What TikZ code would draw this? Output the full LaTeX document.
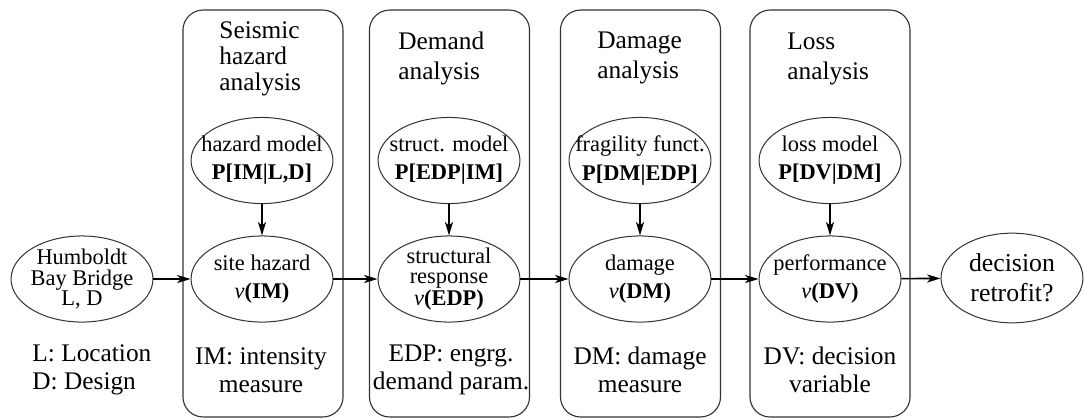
\documentclass[tikz,border=0pt]{standalone}
\usepackage{fontspec}
\setmainfont{Liberation Serif}
\usetikzlibrary{arrows.meta,positioning,shapes.geometric}

\begin{document}
\begin{tikzpicture}[
    x=0.446pt, y=-0.446pt,
    node distance=14pt,
    stage/.style={draw=black!80, line width=0.5pt, rounded corners=9pt, minimum width=71.4pt, minimum height=181.5pt, inner sep=0pt},
    est/.style={draw=black!80, line width=0.45pt, ellipse, align=center, minimum width=63.3pt, minimum height=38.4pt, inner xsep=-8pt, inner ysep=-2pt, font=\fontsize{10}{12.5}\selectfont},
    tight/.style={font=\fontsize{10}{9}\selectfont},
    title/.style={align=left, anchor=west, inner sep=0pt, font=\fontsize{11.3}{13.4}\selectfont},
    note/.style={align=center, inner sep=0pt, font=\fontsize{11.3}{12.5}\selectfont},
    flow/.style={-{Stealth[length=6pt, width=3.6pt, inset=1.6pt]}, line width=0.7pt}
]
\useasboundingbox (0,0) rectangle (1084,419);

% analysis stages
\node[stage] (seisbox) at (263,213.5) {};
\node[stage] (dembox) at (449.5,213.5) {};
\node[stage] (dambox) at (640.5,213.5) {};
\node[stage] (lossbox) at (830,213.5) {};

\node[title, font=\fontsize{11.3}{11.6}\selectfont] (seistitle) at (219,59) {Seismic\\hazard\\analysis};
\node[title] (demtitle) at (398,58) {Demand\\analysis};
\node[title] (damtitle) at (597,58) {Damage\\analysis};
\node[title] (losstitle) at (787,59) {Loss\\analysis};

% main chain
\node[est, tight] (bridge) at (82,279) {Humboldt\\Bay Bridge\\L, D};
\node[est] (site) at (262,279) {site hazard\\\textit{v}\textbf{(IM)}};
\node[est, tight] (resp) at (449,279) {structural\\response\\\textit{v}\textbf{(EDP)}};
\node[est] (dmg) at (640,279) {damage\\\textit{v}\textbf{(DM)}};
\node[est] (perf) at (830,279) {performance\\\textit{v}\textbf{(DV)}};
\node[est, font=\fontsize{11.5}{13.5}\selectfont, minimum height=40pt] (dec) at (1012,278) {decision\\retrofit?};

% models feeding each stage
\node[est, above=of site] (hazmod) {hazard model\\\textbf{P[IM|L,D]}};
\node[est, above=of resp] (strmod) {struct. model\\\textbf{P[EDP|IM]}};
\node[est, above=of dmg] (fragmod) {fragility funct.\\\textbf{P[DM|EDP]}};
\node[est, above=of perf] (lossmod) {loss model\\\textbf{P[DV|DM]}};

% definitions
\node[note, anchor=west, align=left] (ldnote) at (32,370) {L: Location\\D: Design};
\node[note] (imnote) at (261,370) {IM: intensity\\measure};
\node[note] (edpnote) at (451,370) {EDP: engrg.\\demand param.};
\node[note] (dmnote) at (640,370) {DM: damage\\measure};
\node[note] (dvnote) at (830,370) {DV: decision\\variable};

\draw[flow] (bridge) -- (site);
\draw[flow] (site) -- (resp);
\draw[flow] (resp) -- (dmg);
\draw[flow] (dmg) -- (perf);
\draw[flow] (perf) -- (dec);
\draw[flow] (hazmod) -- (site);
\draw[flow] (strmod) -- (resp);
\draw[flow] (fragmod) -- (dmg);
\draw[flow] (lossmod) -- (perf);
\end{tikzpicture}
\end{document}
